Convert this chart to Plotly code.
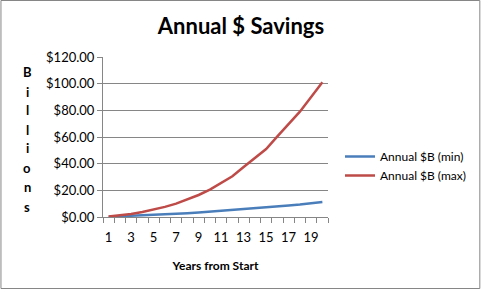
import plotly.graph_objects as go

years = list(range(1, 21))
min_vals = [0.2, 0.5, 0.9, 1.4, 1.8, 2.0, 2.3, 2.8, 3.3, 3.9, 4.5, 5.1, 5.8, 6.5, 7.2, 7.9, 8.6, 9.3, 10.2, 11.3]
max_vals = [0.3, 1.2, 2.3, 3.8, 5.5, 7.6, 10.0, 13.0, 16.5, 20.5, 25.2, 30.5, 37.5, 44.5, 51.0, 60.5, 69.5, 79.0, 90.0, 101.0]
series_names = ["Annual $B (min)", "Annual $B (max)"]
x_tick_labels = [1, 3, 5, 7, 9, 11, 13, 15, 17, 19]

W, H = 482, 289
L, R, T, B = 103, 153, 57, 72
pw, ph = W - L - R, H - T - B

fig = go.Figure()
fig.add_trace(go.Scatter(x=years, y=min_vals, mode="lines", name=series_names[0],
                         line=dict(color="#4A7EBB", width=2.5)))
fig.add_trace(go.Scatter(x=years, y=max_vals, mode="lines", name=series_names[1],
                         line=dict(color="#BE4B48", width=2.5)))

font_family = "Lato, 'Open Sans', sans-serif"

fig.update_layout(
    width=W, height=H,
    margin=dict(l=L, r=R, t=T, b=B),
    paper_bgcolor="white", plot_bgcolor="white",
    font=dict(family=font_family, size=13, color="black"),
    title=dict(text="<b>Annual $ Savings</b>", x=(241) / W, xanchor="center",
               y=1 - 26 / H, yanchor="middle", font=dict(size=22, family=font_family)),
    showlegend=True,
    legend=dict(x=(340 - L) / pw, xanchor="left", y=(T + ph - 142) / ph, yanchor="top",
                font=dict(size=12), bgcolor="rgba(0,0,0,0)", tracegroupgap=0),
    xaxis=dict(range=[0.5, 20.5], tickmode="array", tickvals=x_tick_labels,
               ticktext=[str(v) for v in x_tick_labels],
               ticks="outside", ticklen=8, tickcolor="rgba(0,0,0,0)",
               showgrid=False, zeroline=False, showline=True, linecolor="#868686", linewidth=1,
               minor=dict(tickmode="array", tickvals=[i + 0.5 for i in range(0, 21)],
                          ticks="outside", ticklen=5, tickcolor="#868686", showgrid=False),
               title=dict(text="<b>Years from Start</b>", font=dict(size=12), standoff=18),
               tickfont=dict(size=13)),
    yaxis=dict(range=[0, 120], dtick=20, tickprefix="$", tickformat=",.2f",
               ticks="outside", ticklen=5, tickcolor="#868686",
               showgrid=True, gridcolor="#868686", gridwidth=1, zeroline=False,
               showline=True, linecolor="#868686", linewidth=1,
               tickfont=dict(size=13)),
)

# Vertical stacked axis label
letters = list("Billions")
y_pos = [72, 92, 110, 130, 148, 168, 187, 207]
for ch, yp in zip(letters, y_pos):
    fig.add_annotation(text="<b>%s</b>" % ch, xref="paper", yref="paper",
                       x=(27 - L) / pw, y=(T + ph - yp) / ph, showarrow=False,
                       xanchor="center", yanchor="middle", font=dict(size=13))

# outer border
fig.add_shape(type="rect", xref="paper", yref="paper",
              x0=(0.5 - L) / pw, x1=(W - 0.5 - L) / pw,
              y0=(T + ph - (H - 0.5)) / ph, y1=(T + ph - 0.5) / ph,
              line=dict(color="#868686", width=1), layer="below")

fig.write_html("out.html")
